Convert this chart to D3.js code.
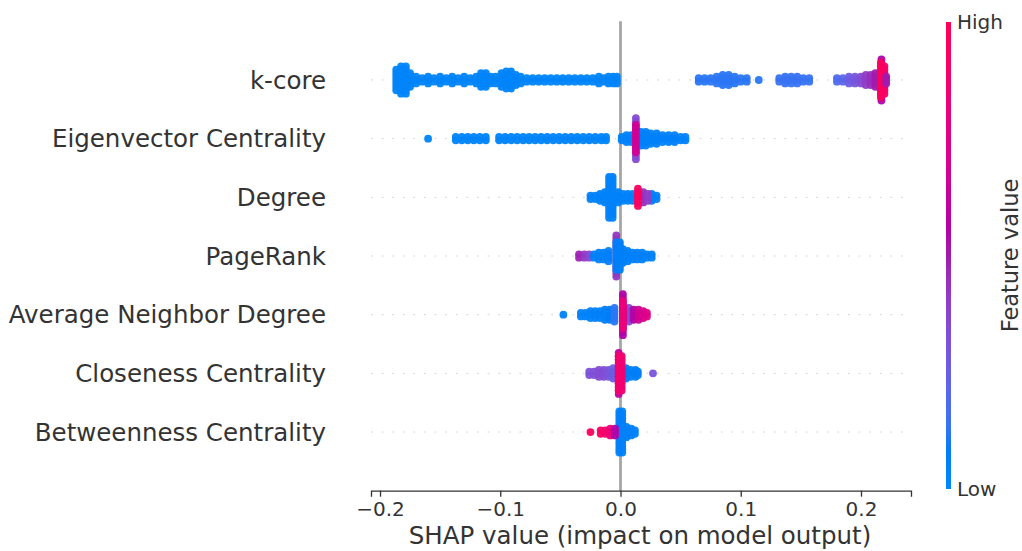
<!DOCTYPE html>
<html><head><meta charset="utf-8">
<script src="https://cdn.jsdelivr.net/npm/d3@7"></script>
<style>
body{margin:0;background:#fff}
svg{display:block}
text{font-family:"DejaVu Sans",sans-serif;fill:#333333}
</style>
</head><body>
<svg id="c" width="1022" height="551"></svg>
<script>
// ---------- DATA ----------
const features = ["k-core","Eigenvector Centrality","Degree","PageRank","Average Neighbor Degree","Closeness Centrality","Betweenness Centrality"];
const xTicks = [-0.2,-0.1,0.0,0.1,0.2];
const xTickLabels = ["\u22120.2","\u22120.1","0.0","0.1","0.2"];
const xLabel = "SHAP value (impact on model output)";
const colorbarLabels = ["Low","High"];
const colorbarTitle = "Feature value";

// each entry: [shap value, number of samples stacked, normalized feature value]
const kcore = [
 [-0.1865,7,.03],[-0.1825,9,.03],[-0.1785,9,.03],[-0.175,5,.03],
 [-0.170,3,.03],[-0.165,2,.03],[-0.160,3,.03],[-0.155,2,.03],[-0.150,3,.03],[-0.145,2,.03],
 [-0.140,3,.03],[-0.135,2,.03],[-0.130,3,.03],[-0.125,2,.03],[-0.120,3,.03],[-0.116,5,.03],
 [-0.112,5,.03],[-0.108,3,.03],[-0.104,3,.03],[-0.099,5,.03],[-0.095,6,.03],[-0.091,6,.03],
 [-0.087,4,.03],[-0.083,3,.03],[-0.078,2,.03],[-0.073,2,.03],[-0.068,2,.03],[-0.063,2,.03],
 [-0.058,2,.03],[-0.053,2,.03],[-0.048,2,.03],[-0.043,2,.03],[-0.038,2,.03],[-0.033,2,.03],
 [-0.028,2,.03],[-0.023,2,.03],[-0.018,3,.03],[-0.014,2,.03],[-0.010,3,.03],[-0.006,3,.03],[-0.003,3,.03],
 [0.065,2,.12],[0.070,2,.12],[0.075,2,.12],[0.080,3,.12],[0.085,4,.12],[0.090,4,.12],
 [0.095,3,.12],[0.100,2,.12],[0.105,2,.12],[0.115,1,.12],
 [0.132,2,.14],[0.137,3,.14],[0.142,3,.14],[0.147,3,.14],[0.152,2,.14],[0.157,2,.14],
 [0.180,2,.18],[0.185,2,.22],[0.190,3,.26],[0.195,3,.30],[0.200,3,.34],[0.204,4,.40],
 [0.208,4,.45],[0.212,5,.50],
 [0.217,13,.55],[0.2165,11,.96],[0.2195,9,.92],[0.221,3,.50]
];
const eigenvector = [
 [-0.160,1,.03],
 [-0.137,2,.03],[-0.132,2,.03],[-0.127,2,.03],[-0.122,2,.03],[-0.117,2,.03],[-0.112,2,.03],
 [-0.101,2,.03],[-0.096,2,.03],[-0.091,2,.03],[-0.086,2,.03],[-0.081,2,.03],[-0.076,2,.03],
 [-0.071,2,.03],[-0.066,2,.03],[-0.061,2,.03],[-0.056,2,.03],[-0.051,2,.03],[-0.046,2,.03],
 [-0.041,2,.03],[-0.036,2,.03],[-0.031,2,.03],[-0.026,2,.03],[-0.021,2,.03],[-0.016,2,.03],[-0.012,2,.03],
 [0.001,2,.04],[0.005,3,.04],[0.009,3,.04],
 [0.017,5,.05],[0.021,5,.05],[0.025,4,.05],[0.030,4,.05],[0.035,3,.05],[0.040,3,.05],
 [0.045,3,.05],[0.050,2,.05],[0.054,2,.05],
 [0.0128,13,.35],[0.0128,9,.68]
];
const degree = [
 [-0.025,2,.04],[-0.021,2,.04],[-0.017,3,.04],[-0.013,4,.04],
 [-0.0095,13,.04],[-0.0065,13,.04],[-0.002,4,.04],[0.002,3,.04],[0.006,3,.04],[0.010,3,.04],
 [0.026,3,.05],[0.030,2,.05],
 [0.019,4,.45],[0.023,3,.40],
 [0.0145,6,.95]
];
const pagerank = [
 [-0.0345,2,.48],[-0.030,2,.42],[-0.026,2,.35],[-0.022,2,.05],[-0.018,3,.05],[-0.014,3,.05],[-0.010,4,.05],
 [0.002,5,.05],[0.006,4,.05],[0.010,3,.05],[0.014,3,.05],[0.018,3,.05],[0.022,2,.05],[0.026,2,.05],
 [-0.0035,13,.42],[-0.0035,9,.06],[-0.0005,9,.06]
];
const avgNeighbor = [
 [-0.0475,1,.04],
 [-0.033,2,.04],[-0.029,2,.04],[-0.025,3,.04],[-0.021,3,.05],[-0.017,3,.05],[-0.013,4,.06],
 [-0.009,4,.08],[-0.005,5,.12],
 [0.007,5,.35],[0.011,4,.55],[0.015,4,.68],[0.019,3,.72],[0.022,2,.75],
 [0.002,13,.55],[0.002,9,.82]
];
const closeness = [
 [-0.026,2,.32],[-0.022,2,.32],[-0.018,3,.34],[-0.014,3,.34],[-0.010,3,.30],[-0.006,4,.26],
 [0.0045,4,.08],[0.0085,3,.07],[0.0125,3,.07],[0.0145,2,.07],[0.027,1,.30],
 [-0.0015,13,.62],[-0.0015,11,.90],[0.001,11,.86]
];
const betweenness = [
 [-0.025,1,.95],[-0.0165,2,.92],[-0.0125,2,.90],[-0.0085,3,.82],
 [0.005,4,.05],[0.009,3,.05],[0.012,2,.05],
 [-0.001,13,.05],[0.0015,13,.05],[-0.0045,3,.55]
];
const rows = [kcore, eigenvector, degree, pagerank, avgNeighbor, closeness, betweenness];

// ---------- CHART ----------
const svg = d3.select("#c");
const x = d3.scaleLinear().domain([-0.2075, 0.2416]).range([371, 911]);
const y = d3.scaleLinear().domain([-1, features.length]).range([490.7, 21.3]);
const rowPos = i => features.length - 1 - i;

// SHAP red_blue colormap (LCh interpolation)
function shapColor(t){
  const L = t < 0.5 ? 54 - 28*t : 40 + 28*(t-0.5);
  const C = 70 + 20*t;
  const Hh = 266.93 + t*(380.32-266.93);
  return d3.hcl(Hh % 360, C, L).formatHex();
}

// dotted row guides
svg.append("g").selectAll("line").data(features).join("line")
  .attr("x1", x.range()[0]).attr("x2", x.range()[1])
  .attr("y1", (d,i)=>y(rowPos(i))).attr("y2", (d,i)=>y(rowPos(i)))
  .attr("stroke","#cccccc").attr("stroke-width",0.9).attr("stroke-dasharray","1.8 8.8");

// zero line
svg.append("line").attr("x1",x(0)).attr("x2",x(0)).attr("y1",y(features.length)).attr("y2",y(-1))
  .attr("stroke","#a6a6a6").attr("stroke-width",2.8);

// beeswarm points
const rowH = y(0) - y(1);
const maxOff = 0.35*rowH;
const r = 3.9;
const dotsG = svg.append("g");
rows.forEach((bins, i) => {
  const maxN = d3.max(bins, b => b[1]);
  const step = 2*maxOff/(maxN-1);
  const cy0 = y(rowPos(i));
  const pts = [];
  bins.forEach(b => {
    for (let k = 0; k < b[1]; k++) pts.push({v:b[0], off:(k-(b[1]-1)/2)*step, f:b[2]});
  });
  dotsG.append("g").selectAll("circle").data(pts).join("circle")
    .attr("cx", d => x(d.v)).attr("cy", d => cy0 + d.off).attr("r", r)
    .attr("fill", d => shapColor(d.f)).attr("fill-opacity",0.95);
});

// y labels
svg.append("g").selectAll("text").data(features).join("text")
  .attr("x", 326).attr("y", (d,i)=>y(rowPos(i))).attr("dy","0.35em")
  .attr("text-anchor","end").attr("font-size",24.5).text(d=>d);

// x axis
const axis = d3.axisBottom(x).tickValues(xTicks).tickFormat((d,i)=>xTickLabels[i]).tickSizeOuter(0).tickSize(6).tickPadding(5);
const ax = svg.append("g").attr("transform",`translate(0,${y(-1)})`).call(axis);
ax.select(".domain").attr("stroke","#333333").attr("stroke-width",1.3);
ax.selectAll(".tick line").attr("stroke","#333333").attr("stroke-width",1.3);
ax.selectAll(".tick text").attr("font-size",20).attr("font-family","DejaVu Sans").attr("fill","#333333");
svg.append("text").attr("x",640).attr("y",544).attr("text-anchor","middle")
  .attr("font-size",24.5).text(xLabel);

// colorbar
const cb = d3.scaleLinear().domain([0,1]).range([489, 22]);
const grad = svg.append("defs").append("linearGradient").attr("id","cbg")
  .attr("x1",0).attr("y1",1).attr("x2",0).attr("y2",0);
grad.selectAll("stop").data(d3.range(0,1.0001,0.02)).join("stop")
  .attr("offset",d=>d).attr("stop-color",d=>shapColor(d));
svg.append("rect").attr("x",946).attr("y",cb(1)).attr("width",5).attr("height",cb(0)-cb(1)).attr("fill","url(#cbg)");
svg.append("g").selectAll("text").data(colorbarLabels).join("text")
  .attr("x",957).attr("y",(d,i)=>cb(i)).attr("dy","0.35em").attr("font-size",20).text(d=>d);
svg.append("text").attr("transform",`translate(1018,${(cb(0)+cb(1))/2}) rotate(-90)`)
  .attr("text-anchor","middle").attr("font-size",22.5).text(colorbarTitle);
</script>
</body></html>
